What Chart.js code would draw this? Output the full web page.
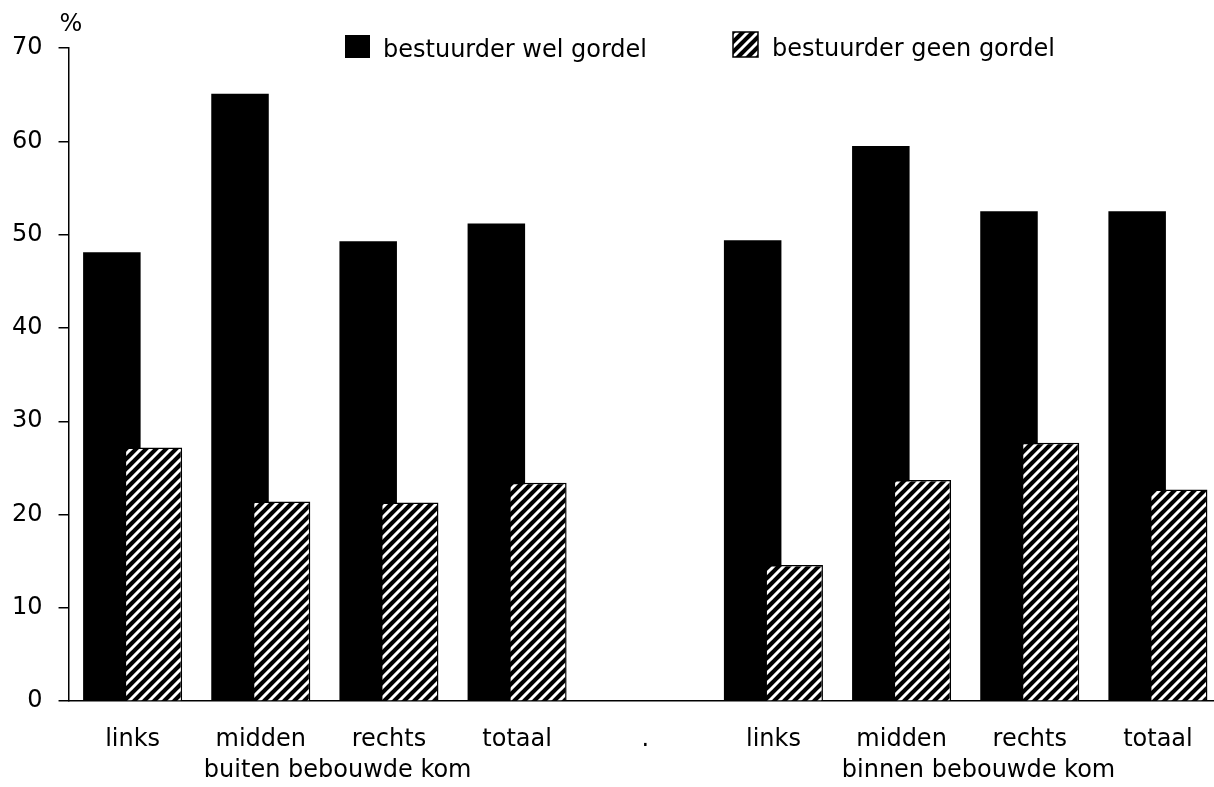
<!DOCTYPE html>
<html>
<head>
<meta charset="utf-8">
<script src="https://cdn.jsdelivr.net/npm/chart.js@4.4.1/dist/chart.umd.min.js"></script>
<style>
  html, body { margin: 0; background: #fff; overflow: hidden; }
</style>
</head>
<body>
<canvas id="chart1" width="1222" height="787"></canvas>
<script>

var categories = ["links", "midden", "rechts", "totaal", ".", "links", "midden", "rechts", "totaal"];
var welGordel = [48.1, 65.1, 49.3, 51.2, null, 49.4, 59.5, 52.5, 52.5];
var geenGordel = [27.2, 21.4, 21.3, 23.4, null, 14.6, 23.7, 27.7, 22.7];
var seriesNames = ["bestuurder wel gordel", "bestuurder geen gordel"];
var groupNames = ["buiten bebouwde kom", "binnen bebouwde kom"];
var yTicks = [0, 10, 20, 30, 40, 50, 60, 70];

Chart.defaults.font.family = "'DejaVu Sans', sans-serif";
Chart.defaults.font.size = 24;
Chart.defaults.color = "#000";

// diagonal hatch: black with white "/" lines
function makeHatch() {
    var c = document.createElement('canvas');
    c.width = 10;
    c.height = 10;
    var g = c.getContext('2d');
    g.fillStyle = '#000';
    g.fillRect(0, 0, 10, 10);
    g.strokeStyle = '#fff';
    g.lineWidth = 3;
    g.beginPath();
    g.moveTo(-5, 5); g.lineTo(5, -5);
    g.moveTo(0, 10); g.lineTo(10, 0);
    g.moveTo(5, 15); g.lineTo(15, 5);
    g.stroke();
    return g.createPattern(c, 'repeat');
}
var hatch = makeHatch();

// hatched bars sit in front of the black ones
var hatchOnTop = {
    id: 'hatchOnTop',
    beforeDatasetDraw: function(chart, args) {
        if (args.index === 1 && !chart.$hatchPass) return false;
    },
    afterDatasetsDraw: function(chart) {
        chart.$hatchPass = true;
        chart.getDatasetMeta(1).controller.draw();
        chart.$hatchPass = false;
    }
};

// legend, "%" and the two group captions
var extras = {
    id: 'extras',
    afterDraw: function(chart) {
        var ctx = chart.ctx;
        var x = chart.scales.x;
        ctx.save();
        ctx.fillStyle = '#000';
        ctx.font = "24px 'DejaVu Sans'";

        ctx.textAlign = 'center';
        ctx.textBaseline = 'middle';
        ctx.fillText('%', 71, 25);

        ctx.textAlign = 'left';
        ctx.textBaseline = 'alphabetic';
        ctx.fillRect(345, 35, 25, 23);
        ctx.fillText(seriesNames[0], 383, 57);

        ctx.fillStyle = hatch;
        ctx.fillRect(733, 32, 25, 25);
        ctx.strokeStyle = '#000';
        ctx.lineWidth = 1.5;
        ctx.strokeRect(733, 32, 25, 25);
        ctx.fillStyle = '#000';
        ctx.fillText(seriesNames[1], 772, 56);

        ctx.textAlign = 'center';
        ctx.fillText(groupNames[0], x.getPixelForValue(1.6), 777);
        ctx.fillText(groupNames[1], x.getPixelForValue(6.6), 777);
        ctx.restore();
    }
};

var canvas = document.getElementById('chart1').getContext('2d');

new Chart(canvas, {
    type: 'bar',
    data: {
        labels: categories,
        datasets: [{
            label: seriesNames[0],
            data: welGordel,
            backgroundColor: "#000",
            borderColor: "#000",
            borderWidth: 0,
            categoryPercentage: 0.648,
            barPercentage: 1.385
        }, {
            label: seriesNames[1],
            data: geenGordel,
            backgroundColor: hatch,
            borderColor: "#000",
            borderWidth: 1.5,
            categoryPercentage: 0.648,
            barPercentage: 1.385
        }]
    },
    options: {
        responsive: false,
        animation: false,
        layout: { padding: { left: -4, top: 48, right: 0, bottom: 9 } },
        plugins: {
            legend: { display: false },
            tooltip: { enabled: false }
        },
        scales: {
            x: {
                grid: { display: false, drawTicks: false },
                border: { display: true, color: "#000", width: 1.5 },
                ticks: { padding: 24, maxRotation: 0, autoSkip: false }
            },
            y: {
                min: 0,
                max: 70,
                afterBuildTicks: function(axis) {
                    axis.ticks = yTicks.map(function(v) { return { value: v }; });
                },
                grid: { drawOnChartArea: false, drawTicks: true, tickLength: 10, color: "#000", lineWidth: 1.5 },
                border: { display: true, color: "#000", width: 1.5 },
                ticks: { padding: 16 }
            }
        }
    },
    plugins: [hatchOnTop, extras]
});
</script>
</body>
</html>
